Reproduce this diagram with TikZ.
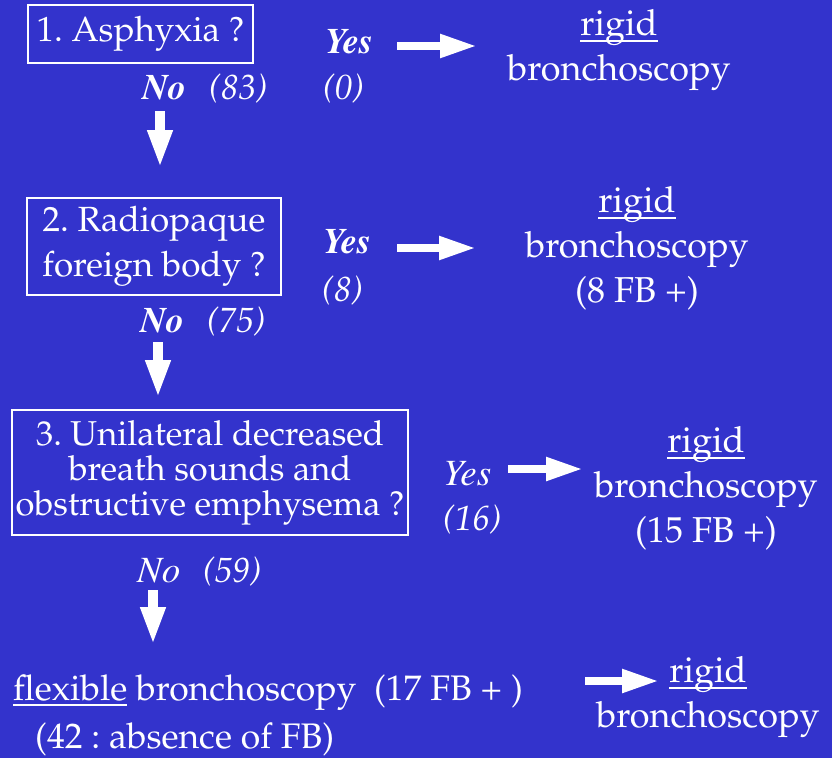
\documentclass[tikz,border=0pt]{standalone}
\usepackage[T1]{fontenc}
\renewcommand\rmdefault{ppl}
\usetikzlibrary{arrows.meta}
\definecolor{bgblue}{RGB}{51,51,204}
\newcommand\myul[1]{\setbox0\hbox{#1}\rlap{\rule[-0.17em]{\wd0}{0.05em}}\copy0\relax}
\newcommand\tbi{\fontfamily{ptm}\bfseries\itshape}
\newcommand\tmi{\fontfamily{ptm}\mdseries\itshape}
\frenchspacing
\begin{document}
\begin{tikzpicture}[x=1pt,y=-1pt,
  every node/.style={text=white, inner sep=0pt},
  qbox/.style={draw=white, line width=2.4pt, align=center},
  lab/.style={anchor=base west, font=\fontsize{35}{40}\selectfont\itshape},
  blab/.style={anchor=base west, font=\fontsize{36}{40}\selectfont\tbi},
  mlab/.style={anchor=base west, font=\fontsize{37}{40}\selectfont\tmi},
  res/.style={align=center, font=\fontsize{36}{45}\selectfont},
  plain/.style={anchor=base west, font=\fontsize{35.5}{40}\selectfont},
  rarrow/.style={draw=white, line width=8pt, -{Triangle[width=22pt,length=37pt]}},
  darrow/.style={draw=white, line width=10pt, -{Triangle[width=23pt,length=38pt]}}]
\fill[bgblue] (0,0) rectangle (832,758);
\useasboundingbox (0,0) rectangle (832,758);

% question boxes
\node[qbox, minimum width=225pt, minimum height=58pt, font=\fontsize{35}{45}\selectfont] (q1) at (140.5,34) {1. Asphyxia ?};
\node[qbox, minimum width=254pt, minimum height=97pt, font=\fontsize{35}{45}\selectfont] (q2) at (154,246.5) {2. Radiopaque\\foreign body ?};
\node[qbox, minimum width=396pt, minimum height=125pt, font=\fontsize{34.5}{35}\selectfont] (q3) at (210,472.5) {3. Unilateral decreased\\breath sounds and\\obstructive emphysema ?};

% results
\node[res] (r1) at (619,50.5) {\myul{rigid}\\bronchoscopy};
\node[res] (r2) at (637,248.5) {\myul{rigid}\\bronchoscopy\\(8 FB +)};
\node[res] (r3) at (706,488.5) {\myul{rigid}\\bronchoscopy\\(15 FB +)};
\node[res] (r4) at (708,697.5) {\myul{rigid}\\bronchoscopy};

% labels
\node[blab] (y1) at (325,53) {Yes};
\node[lab] (c1y) at (323,99) {(0)};
\node[blab] (n1) at (142,99) {No};
\node[lab] (c1) at (209,99) {(83)};
\node[blab] (y2) at (323,253) {Yes};
\node[lab] (c2y) at (322,301) {(8)};
\node[blab] (n2) at (140,332) {No};
\node[lab] (c2) at (207,332) {(75)};
\node[mlab] (y3) at (443,485) {Yes};
\node[lab] (c3y) at (443,530) {(16)};
\node[mlab] (n3) at (137,582) {No};
\node[lab] (c3) at (203,582) {(59)};

% bottom line
\node[plain] (fb) at (13,700) {\myul{flexible} bronchoscopy~ (17 FB + )};
\node[plain] (abs) at (35,748) {(42 : absence of FB)};

% arrow end points
\coordinate (a1s) at (397,46);  \coordinate (a1e) at (477,46);
\coordinate (a2s) at (397,248); \coordinate (a2e) at (476,248);
\coordinate (a3s) at (508,469); \coordinate (a3e) at (583,469);
\coordinate (a4s) at (585,681); \coordinate (a4e) at (659,681);
\coordinate (d1s) at (160,111); \coordinate (d1e) at (160,168);
\coordinate (d2s) at (158,342); \coordinate (d2e) at (158,398);
\coordinate (d3s) at (153,590); \coordinate (d3e) at (153,645);

\draw[rarrow] (a1s) -- (a1e);
\draw[rarrow] (a2s) -- (a2e);
\draw[rarrow] (a3s) -- (a3e);
\draw[rarrow] (a4s) -- (a4e);
\draw[darrow] (d1s) -- (d1e);
\draw[darrow] (d2s) -- (d2e);
\draw[darrow] (d3s) -- (d3e);
\end{tikzpicture}
\end{document}
